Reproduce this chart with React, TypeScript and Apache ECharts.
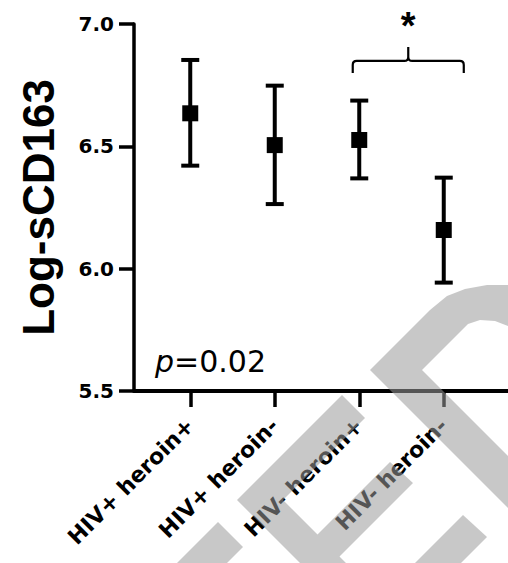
import React, { useEffect, useRef } from "react";
import * as echarts from "echarts";

// ---- data ----
const categories = ["HIV+ heroin+", "HIV+ heroin-", "HIV- heroin+", "HIV- heroin-"];
const means = [6.635, 6.505, 6.526, 6.158];
const upper = [6.853, 6.748, 6.687, 6.372];
const lower = [6.421, 6.264, 6.369, 5.943];
const yMin = 5.5;
const yMax = 7.0;
const yInterval = 0.5;
const yTitle = "Log-sCD163";
const bracketPair = [2, 3];
const bracketLevel = 6.849;
const bracketEnd = 6.8;
const bracketTip = 6.906;
const starLevel = 6.99;
const starText = "*";
const pSymbol = "p";
const pValue = "=0.02";

// watermark shapes (decoration)
const watermark: number[][][] = [
  [[370, 370], [430, 310], [447, 296], [465, 289], [487, 285], [520, 285], [520, 330], [508, 326], [495, 321], [480, 320], [468, 324], [422, 370], [520, 468], [520, 520]],
  [[237, 500], [342, 395], [365, 418], [283, 500], [317.5, 534.5], [390, 462], [413, 483], [339.5, 556.5], [383, 600], [337, 600]],
  [[218, 522], [243, 547], [190, 600], [140, 600]],
  [[463, 515], [487, 537], [424, 600], [378, 600]],
];

const AX = "#000";

export default function App() {
  const ref = useRef<HTMLDivElement>(null);
  useEffect(() => {
    if (!ref.current) return;
    const chart = echarts.init(ref.current, null, { renderer: "svg" });
    const errData = categories.map((_, i) => [i, lower[i], upper[i]]);
    const meanData = categories.map((_, i) => [i, means[i]]);
    chart.setOption({
      animation: false,
      backgroundColor: "#fff",
      grid: [
        { left: 134, right: 0, top: 24, bottom: 172 },
        { left: 148, right: 22, top: 24, bottom: 172 },
      ],
      xAxis: [
        {
          type: "value", gridIndex: 0, min: 0, max: 1,
          axisLine: { show: true, lineStyle: { color: AX, width: 4 } },
          axisTick: { show: false }, axisLabel: { show: false }, splitLine: { show: false },
        },
        {
          type: "category", gridIndex: 1, data: categories,
          axisLine: { show: false },
          axisTick: { show: true, alignWithLabel: true, length: 16, lineStyle: { color: AX, width: 3.5 } },
          axisLabel: {
            rotate: 45, margin: 31, color: "#000", fontFamily: "DejaVu Sans",
            fontWeight: "bold", fontSize: 22, interval: 0,
          },
          splitLine: { show: false },
        },
      ],
      yAxis: [
        {
          type: "value", gridIndex: 0, min: yMin, max: yMax, interval: yInterval,
          name: yTitle, nameLocation: "middle", nameRotate: 90, nameGap: 74,
          nameTextStyle: { fontFamily: "Liberation Sans", fontWeight: "bold", fontSize: 44, color: "#000" },
          axisLine: { show: true, lineStyle: { color: AX, width: 3.5 } },
          axisTick: { show: true, length: 15, lineStyle: { color: AX, width: 3.5 } },
          axisLabel: {
            margin: 20, color: "#000", fontFamily: "DejaVu Sans", fontWeight: "bold", fontSize: 20,
            formatter: (v: number) => v.toFixed(1),
          },
          splitLine: { show: false },
        },
        {
          type: "value", gridIndex: 1, min: yMin, max: yMax, interval: yInterval, show: false,
          splitLine: { show: false },
        },
      ],
      series: [
        {
          type: "custom", xAxisIndex: 1, yAxisIndex: 1, data: errData,
          encode: { x: 0, y: [1, 2] },
          renderItem: (params: any, api: any) => {
            const i = api.value(0);
            const lo = api.coord([i, api.value(1)]);
            const hi = api.coord([i, api.value(2)]);
            const hw = 9;
            const style = { stroke: "#000", lineWidth: 4 };
            return {
              type: "group",
              children: [
                { type: "line", shape: { x1: hi[0], y1: hi[1], x2: lo[0], y2: lo[1] }, style },
                { type: "line", shape: { x1: hi[0] - hw, y1: hi[1], x2: hi[0] + hw, y2: hi[1] }, style },
                { type: "line", shape: { x1: lo[0] - hw, y1: lo[1], x2: lo[0] + hw, y2: lo[1] }, style },
              ],
            };
          },
          z: 2,
        },
        {
          type: "scatter", xAxisIndex: 1, yAxisIndex: 1, data: meanData,
          symbol: "rect", symbolSize: 16, itemStyle: { color: "#000", opacity: 1 }, z: 3,
        },
        {
          type: "custom", xAxisIndex: 1, yAxisIndex: 1,
          data: [[bracketPair[0], bracketPair[1], bracketLevel, bracketEnd, bracketTip, starLevel]],
          encode: { x: [0, 1], y: [2, 3, 4, 5] },
          clip: false,
          renderItem: (params: any, api: any) => {
            const band = api.size([1, 0])[0];
            const a = api.coord([api.value(0), api.value(2)]);
            const b = api.coord([api.value(1), api.value(2)]);
            const yEnd = api.coord([api.value(0), api.value(3)])[1];
            const yTip = api.coord([api.value(0), api.value(4)])[1];
            const yStar = api.coord([api.value(0), api.value(5)])[1];
            const x1 = a[0] - 0.077 * band;
            const x2 = b[0] + 0.237 * band;
            const y = a[1];
            const xm = (x1 + x2) / 2;
            const r = 4;
            const d =
              `M${x1} ${yEnd} L${x1} ${y + r} Q${x1} ${y} ${x1 + r} ${y} L${xm - r} ${y} Q${xm} ${y} ${xm} ${y - r} L${xm} ${yTip} ` +
              `M${xm} ${y - r} Q${xm} ${y} ${xm + r} ${y} L${x2 - r} ${y} Q${x2} ${y} ${x2} ${y + r} L${x2} ${yEnd}`;
            return {
              type: "group",
              children: [
                { type: "path", shape: { pathData: d }, style: { stroke: "#000", fill: "none", lineWidth: 2.2 } },
                {
                  type: "text", x: xm, y: yStar,
                  style: {
                    text: starText, fill: "#000", fontFamily: "Liberation Sans", fontWeight: "bold",
                    fontSize: 38, align: "center", verticalAlign: "middle",
                  },
                },
              ],
            };
          },
        },
      ],
      graphic: [
        {
          type: "text", x: 155, y: 361, z: 50,
          style: {
            text: `{i|${pSymbol}}{n|${pValue}}`,
            verticalAlign: "middle",
            rich: {
              i: { fontFamily: "DejaVu Sans", fontStyle: "italic", fontSize: 30, fill: "#000", color: "#000" },
              n: { fontFamily: "DejaVu Sans", fontSize: 30, fill: "#000", color: "#000" },
            },
          },
        },
        ...watermark.map((pts) => ({
          type: "polygon", z: 100, silent: true,
          shape: { points: pts },
          style: { fill: "rgba(155,155,155,0.55)" },
        })),
      ],
    });
    return () => chart.dispose();
  }, []);
  return (
    <div
      ref={ref}
      style={{ position: "fixed", left: 0, top: 0, width: 508, height: 563, background: "#fff" }}
    />
  );
}
